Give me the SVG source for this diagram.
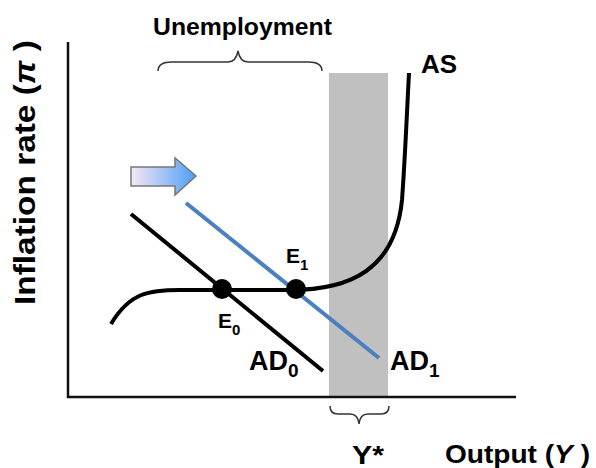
<svg xmlns="http://www.w3.org/2000/svg" width="596" height="468" viewBox="0 0 596 468">
<style>
.t{font-family:"Liberation Sans",Arial,sans-serif;font-weight:bold;fill:#000}
.brace{fill:none;stroke:#333;stroke-width:1.5}
</style>
<defs>
<linearGradient id="g" x1="0" x2="1" y1="0" y2="0">
<stop offset="0" stop-color="#f6e8f2"/>
<stop offset="1" stop-color="#4f9ef5"/>
</linearGradient>
</defs>
<rect width="596" height="468" fill="#fff"/>
<g id="fullemp"><rect x="329" y="73" width="59" height="324" fill="#c0c0c0"/></g>
<g id="axes">
<path d="M68,42 V397 H516" fill="none" stroke="#111" stroke-width="2.5"/>
</g>
<g id="connectors">
<path id="AS" d="M111,324 C130,292 150,290 180,290 L290,290 C350,290 395,270 402,200 C405,160 407,110 409,73" fill="none" stroke="#000" stroke-width="4"/>
<line id="AD0" x1="131" y1="214" x2="323" y2="371" stroke="#000" stroke-width="4"/>
<line id="AD1" x1="186" y1="203" x2="379" y2="358" stroke="#4a7fc0" stroke-width="4"/>
</g>
<g id="shift">
<path d="M131,167 H175 V158 L196,176 L175,195 V186 H131 Z" fill="url(#g)" stroke="#777" stroke-width="1.5"/>
</g>
<g id="E0"><circle cx="222" cy="289" r="10" fill="#000"/><text class="t" x="218" y="328" font-size="21">E<tspan font-size="15" dy="7">0</tspan></text></g>
<g id="E1"><circle cx="296" cy="289" r="10" fill="#000"/><text class="t" x="286" y="263" font-size="21">E<tspan font-size="15" dy="7">1</tspan></text></g>
<text class="t" x="249" y="370" font-size="27">AD<tspan font-size="19" dy="7">0</tspan></text>
<text class="t" x="390" y="370" font-size="27">AD<tspan font-size="19" dy="7">1</tspan></text>
<text class="t" x="421" y="73" font-size="26">AS</text>
<g id="unemp">
<text class="t" x="153" y="35" font-size="23" textLength="179" lengthAdjust="spacingAndGlyphs">Unemployment</text>
<path class="brace" d="M158,71 Q158,62 172,62 L228,62 Q236,62 238,51 Q240,62 248,62 L308,62 Q322,62 322,71"/>
</g>
<g id="ystar">
<path class="brace" d="M330,406 Q330,414 338,414 L350,414 Q358,414 359,424 Q360,414 368,414 L381,414 Q389,414 389,406"/>
<text class="t" x="352" y="464" font-size="25" textLength="32" lengthAdjust="spacingAndGlyphs">Y*</text>
</g>
<text class="t" x="445" y="463" font-size="25" textLength="145" lengthAdjust="spacingAndGlyphs">Output (<tspan font-style="italic">Y</tspan> )</text>
<text class="t" transform="translate(35,305) rotate(-90)" font-size="29" textLength="265" lengthAdjust="spacingAndGlyphs">Inflation rate (<tspan font-style="italic">π</tspan> )</text>
</svg>
